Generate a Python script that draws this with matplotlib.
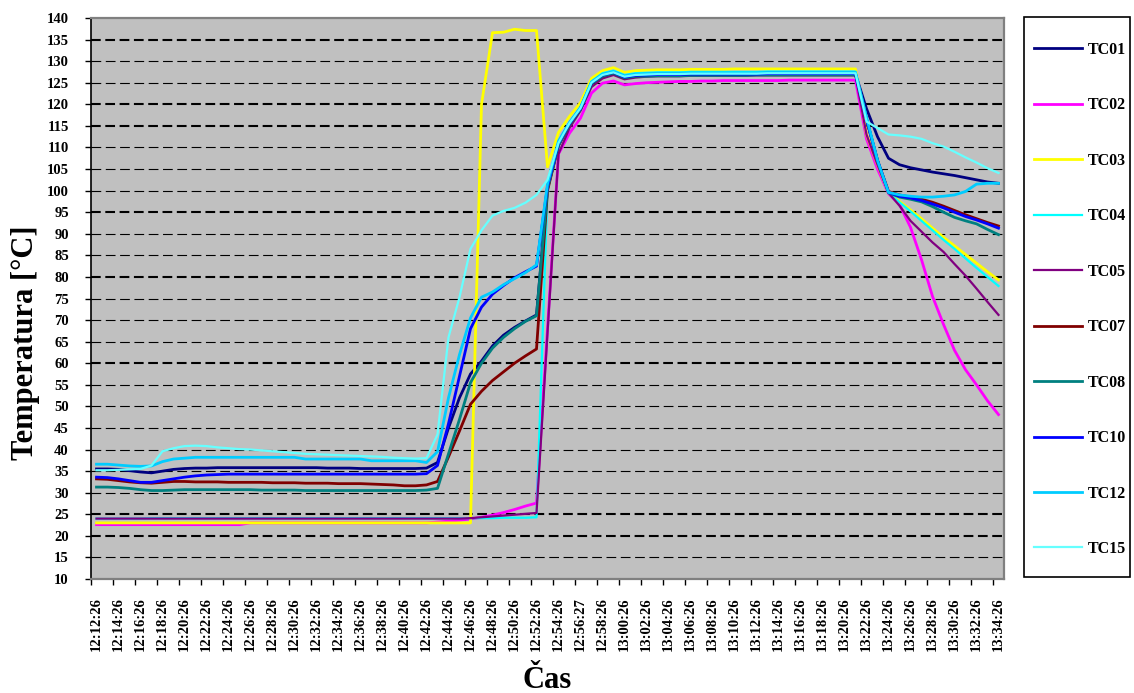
import numpy as np
import matplotlib.pyplot as plt

plt.rcParams['font.family'] = ['Liberation Serif', 'DejaVu Serif']
plt.rcParams['font.weight'] = 'bold'
plt.rcParams['lines.scale_dashes'] = False

# time labels (every second reading)
tick_labels = ["12:12:26", "12:14:26", "12:16:26", "12:18:26", "12:20:26", "12:22:26",
               "12:24:26", "12:26:26", "12:28:26", "12:30:26", "12:32:26", "12:34:26",
               "12:36:26", "12:38:26", "12:40:26", "12:42:26", "12:44:26", "12:46:26",
               "12:48:26", "12:50:26", "12:52:26", "12:54:26", "12:56:27", "12:58:26",
               "13:00:26", "13:02:26", "13:04:26", "13:06:26", "13:08:26", "13:10:26",
               "13:12:26", "13:14:26", "13:16:26", "13:18:26", "13:20:26", "13:22:26",
               "13:24:26", "13:26:26", "13:28:26", "13:30:26", "13:32:26", "13:34:26"]

# one reading per minute, 12:12:26 .. 13:34:26
TC01 = [35.5, 35.5, 35.4, 35.1, 34.8, 34.6, 35.0, 35.4, 35.6, 35.7, 35.7, 35.8, 35.8, 35.8, 35.8, 35.8,
        35.8, 35.8, 35.8, 35.8, 35.8, 35.7, 35.7, 35.7, 35.6, 35.6, 35.6, 35.6, 35.6, 35.6, 35.7,
        37.0, 45.0, 52.0, 57.5, 60.5, 64.0, 66.5, 68.3, 69.8, 71.2, 100.5, 110.5, 115.5, 119.0, 124.8,
        126.6, 127.3, 126.2, 126.6,
        126.8, 126.9, 126.9, 127.0, 127.0, 127.0, 127.1, 127.1, 127.1, 127.0, 127.0, 127.1, 127.1, 127.1,
        127.0, 127.0, 127.1, 127.1, 127.0, 127.0,
        119.0, 112.5, 107.5, 106.0, 105.3, 104.8, 104.3, 103.9, 103.5, 103.0, 102.5, 102.0, 101.7]
TC02 = [22.6, 22.6, 22.6, 22.6, 22.6, 22.6, 22.6, 22.6, 22.6, 22.6, 22.6, 22.6, 22.6, 22.6, 23.0, 23.0,
        23.0, 23.0, 23.0, 23.0, 23.0, 23.0, 23.0, 23.0, 23.0, 23.0, 23.0, 23.0, 23.0, 23.0, 23.0,
        23.2, 23.4, 23.6, 23.9, 24.3, 24.8, 25.4, 26.1, 26.9, 27.6, 68.0, 108.5, 113.3, 116.8, 122.6,
        124.9, 125.4, 124.5, 124.8,
        125.0, 125.1, 125.2, 125.3, 125.3, 125.4, 125.4, 125.5, 125.5, 125.5, 125.5, 125.5, 125.5, 125.6,
        125.6, 125.6, 125.6, 125.6, 125.6, 125.6,
        112.0, 105.0, 99.3, 96.8, 91.5, 84.0, 75.5, 69.0, 63.0, 58.5, 55.0, 51.3, 48.1]
TC03 = [23.0, 23.0, 23.0, 23.0, 23.0, 23.0, 23.0, 23.0, 23.0, 23.0, 23.0, 23.0, 23.0, 23.0, 23.0, 23.0,
        23.0, 23.0, 23.0, 23.0, 23.0, 23.0, 23.0, 23.0, 23.0, 23.0, 23.0, 23.0, 23.0, 23.0, 23.0,
        23.0, 23.0, 23.0, 23.0, 120.0, 136.6, 136.7, 137.4, 137.1, 137.1, 105.5, 113.5, 117.2, 120.4, 126.0,
        127.8, 128.5, 127.4, 127.8,
        127.9, 128.0, 128.0, 128.0, 128.1, 128.1, 128.1, 128.1, 128.2, 128.2, 128.2, 128.2, 128.2, 128.2,
        128.2, 128.2, 128.2, 128.2, 128.2, 128.2,
        113.0, 106.0, 99.5, 97.5, 95.5, 93.5, 91.3, 89.2, 87.2, 85.2, 83.2, 81.2, 79.3]
TC04 = [24.0, 24.0, 24.0, 24.0, 24.0, 24.1, 24.1, 24.1, 24.1, 24.1, 24.1, 24.1, 24.1, 24.1, 24.1, 24.1,
        24.1, 24.1, 24.1, 24.1, 24.1, 24.1, 24.1, 24.1, 24.1, 24.1, 24.1, 24.1, 24.1, 24.1, 24.1,
        24.1, 24.1, 24.1, 24.1, 24.1, 24.1, 24.2, 24.2, 24.2, 24.3, 100.0, 111.0, 115.8, 119.3, 125.3,
        127.2, 127.8, 126.8, 127.2,
        127.3, 127.4, 127.4, 127.4, 127.5, 127.5, 127.5, 127.5, 127.5, 127.5, 127.5, 127.6, 127.6, 127.6,
        127.6, 127.6, 127.6, 127.6, 127.6, 127.6,
        117.0, 107.0, 99.5, 97.3, 95.2, 93.0, 90.8, 88.6, 86.5, 84.3, 82.1, 80.0, 77.9]
TC05 = [24.0, 24.0, 24.0, 24.0, 24.0, 24.0, 24.0, 24.0, 24.0, 24.0, 24.0, 24.0, 24.0, 24.0, 24.0, 24.0,
        24.0, 24.0, 24.0, 24.0, 24.0, 24.0, 24.0, 24.0, 24.0, 24.0, 24.0, 24.0, 24.0, 24.0, 24.0,
        24.0, 24.0, 24.0, 24.1, 24.3, 24.5, 24.7, 24.9, 25.1, 25.3, 67.0, 108.5, 114.5, 118.5, 124.0,
        126.0, 126.8, 125.8, 126.2,
        126.4, 126.5, 126.5, 126.5, 126.6, 126.6, 126.6, 126.6, 126.6, 126.6, 126.7, 126.7, 126.7, 126.7,
        126.7, 126.7, 126.7, 126.7, 126.7, 126.7,
        113.0, 106.0, 99.5, 96.5, 93.0, 90.5, 88.0, 85.8, 83.0, 80.3, 77.3, 74.2, 71.2]
TC07 = [33.2, 33.1, 32.8, 32.5, 32.3, 32.2, 32.4, 32.6, 32.6, 32.5, 32.5, 32.5, 32.4, 32.4, 32.4, 32.4,
        32.3, 32.3, 32.3, 32.2, 32.2, 32.2, 32.1, 32.1, 32.1, 32.0, 31.9, 31.8, 31.6, 31.6, 31.8,
        32.6, 38.3, 44.3, 50.5, 53.5, 56.0, 58.0, 60.0, 61.7, 63.3, 100.0, 110.5, 115.3, 118.8, 124.8,
        126.5, 127.2, 126.1, 126.5,
        126.7, 126.8, 126.8, 126.8, 126.9, 126.9, 126.9, 126.9, 126.9, 126.9, 126.9, 127.0, 127.0, 127.0,
        127.0, 127.0, 127.0, 127.0, 127.0, 127.0,
        116.5, 107.0, 99.8, 99.0, 98.5, 98.0, 97.3, 96.4, 95.4, 94.4, 93.5, 92.6, 91.8]
TC08 = [31.3, 31.3, 31.2, 31.0, 30.7, 30.5, 30.5, 30.6, 30.7, 30.7, 30.7, 30.7, 30.7, 30.7, 30.7, 30.6,
        30.6, 30.6, 30.6, 30.5, 30.5, 30.5, 30.5, 30.5, 30.5, 30.5, 30.5, 30.5, 30.5, 30.5, 30.6,
        31.0, 39.0, 47.0, 55.5, 60.0, 63.5, 66.0, 68.0, 69.7, 71.0, 100.5, 110.5, 115.3, 118.8, 124.8,
        126.5, 127.2, 126.1, 126.5,
        126.5, 126.6, 126.6, 126.6, 126.7, 126.7, 126.7, 126.7, 126.7, 126.7, 126.8, 126.8, 126.8, 126.8,
        126.8, 126.8, 126.8, 126.8, 126.8, 126.8,
        116.5, 107.0, 99.5, 98.5, 98.0, 97.4, 96.3, 95.0, 93.8, 93.0, 92.3, 91.0, 89.8]
TC10 = [33.6, 33.5, 33.2, 32.8, 32.4, 32.4, 32.8, 33.2, 33.6, 33.9, 34.1, 34.2, 34.3, 34.3, 34.3, 34.3,
        34.3, 34.3, 34.3, 34.3, 34.3, 34.3, 34.3, 34.3, 34.3, 34.3, 34.3, 34.3, 34.3, 34.3, 34.4,
        36.3, 46.0, 57.0, 68.0, 73.0, 76.0, 78.0, 79.8, 81.2, 82.5, 101.0, 111.0, 115.6, 119.1, 125.0,
        126.8, 127.4, 126.3, 126.7,
        126.8, 126.9, 126.9, 126.9, 127.0, 127.0, 127.0, 127.0, 127.0, 127.0, 127.0, 127.1, 127.1, 127.1,
        127.1, 127.1, 127.1, 127.1, 127.1, 127.1,
        116.5, 107.0, 99.6, 98.7, 98.3, 97.7, 96.9, 96.0, 95.0, 94.0, 93.2, 92.3, 91.3]
TC12 = [36.6, 36.6, 36.4, 36.2, 36.1, 36.2, 37.2, 37.8, 38.0, 38.2, 38.2, 38.2, 38.2, 38.2, 38.2, 38.2,
        38.2, 38.2, 38.2, 37.8, 37.8, 37.8, 37.8, 37.8, 37.8, 37.4, 37.4, 37.4, 37.4, 37.4, 37.0,
        39.5, 52.0, 62.0, 70.5, 75.3, 76.5, 78.2, 79.6, 81.0, 82.8, 101.5, 111.5, 115.8, 119.3, 125.2,
        127.0, 127.6, 126.6, 127.0,
        127.1, 127.2, 127.2, 127.2, 127.3, 127.3, 127.3, 127.3, 127.3, 127.3, 127.3, 127.4, 127.4, 127.4,
        127.4, 127.4, 127.4, 127.4, 127.4, 127.4,
        117.0, 107.0, 99.6, 99.0, 98.7, 98.5, 98.5, 98.7, 99.0, 99.8, 101.5, 101.7, 101.7]
TC15 = [35.2, 35.2, 35.3, 35.4, 35.5, 36.3, 39.6, 40.3, 40.8, 40.9, 40.8, 40.5, 40.3, 40.1, 40.0, 39.8,
        39.6, 39.4, 39.2, 39.0, 38.9, 38.8, 38.7, 38.6, 38.5, 38.4, 38.3, 38.1, 38.0, 37.9, 38.0,
        43.5, 66.0, 75.3, 86.5, 90.8, 94.2, 95.3, 96.0, 97.2, 99.0, 102.5, 111.0, 115.6, 119.1, 125.0,
        126.8, 127.4, 126.4, 126.8,
        126.9, 127.0, 127.0, 127.0, 127.1, 127.1, 127.1, 127.1, 127.1, 127.1, 127.1, 127.2, 127.2, 127.2,
        127.2, 127.2, 127.2, 127.2, 127.2, 127.2,
        116.0, 114.5, 113.0, 112.8, 112.5, 112.0, 111.0, 110.2, 109.0, 107.7, 106.5, 105.2, 104.1]

series = [TC01, TC02, TC03, TC04, TC05, TC07, TC08, TC10, TC12, TC15]
names = ["TC01", "TC02", "TC03", "TC04", "TC05", "TC07", "TC08", "TC10", "TC12", "TC15"]
colors = ["#000080", "#FF00FF", "#FFFF00", "#00FFFF", "#800080",
          "#800000", "#008080", "#0000FF", "#00CCFF", "#66FFFF"]
widths = [2.0, 2.0, 2.0, 1.6, 1.6, 2.0, 2.0, 2.0, 2.0, 1.6]

W, H = 1134, 693
fig = plt.figure(figsize=(W / 100, H / 100), dpi=100)
ax = fig.add_axes([91 / W, 1 - 579 / H, (1004 - 91) / W, (579 - 18) / H])
ax.set_facecolor("#C0C0C0")

# dashed horizontal grid, some drawn heavier
heavy = [20, 25, 60, 80, 95, 115, 120, 135]
for v in range(15, 140, 5):
    ax.axhline(v, color="black", lw=1.5 if v in heavy else 0.8, dashes=(7, 3.3), zorder=1)

x = np.arange(len(TC01))
for data, name, c, w in zip(series, names, colors, widths):
    ax.plot(x, data, color=c, lw=w, label=name, zorder=3)

ax.set_xlim(-0.5, len(TC01) - 0.5)
ax.set_ylim(10, 140)
ax.set_yticks(range(10, 141, 5))

ax.set_xticks(np.arange(-0.5, len(TC01) - 1, 2))
ax.set_xticks(np.arange(0, len(TC01), 2), minor=True)
ax.set_xticklabels(tick_labels, minor=True, rotation=90)
ax.tick_params(axis="x", which="major", length=4, width=1, labelbottom=False)
ax.tick_params(axis="x", which="minor", length=0, pad=13, labelsize=10.5)
ax.tick_params(axis="y", length=4, width=1, pad=12, labelsize=10.5)

for s in ["top", "right", "bottom"]:
    ax.spines[s].set_color("#808080")
    ax.spines[s].set_linewidth(1.6)
ax.spines["left"].set_color("black")
ax.spines["left"].set_linewidth(1.2)

fig.text(26 / W, 1 - 343 / H, "Temperatura [°C]", rotation=90, ha="center", va="center",
         fontsize=22, fontweight="bold")
fig.text(547 / W, 1 - 688 / H, "Čas", ha="center", va="baseline", fontsize=22, fontweight="bold")

# legend box on the right
fig.add_artist(plt.Rectangle((1024 / W, 1 - 577 / H), 106 / W, 560 / H, transform=fig.transFigure,
                             fill=False, edgecolor="black", lw=1.2))
ax.legend(loc="upper left", bbox_to_anchor=(1034 / W, 1 - 42 / H), bbox_transform=fig.transFigure,
          frameon=False, fontsize=11.5, handlelength=3.0, handletextpad=0.4, labelspacing=2.47,
          borderpad=0, borderaxespad=0)

fig.savefig("out.png", dpi=100)
